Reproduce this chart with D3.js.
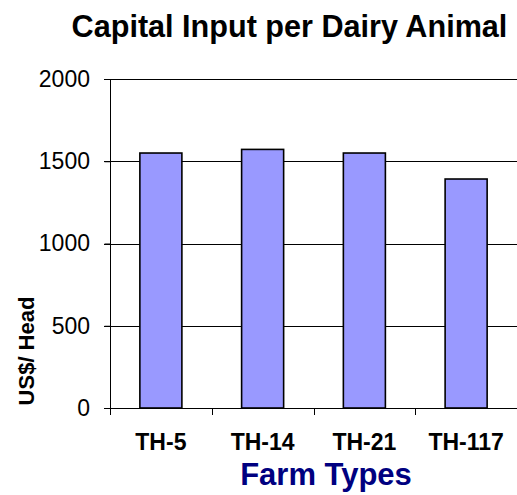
<!DOCTYPE html>
<html>
<head>
<meta charset="utf-8">
<script src="https://cdn.jsdelivr.net/npm/d3@7"></script>
<style>
  html, body { margin: 0; padding: 0; background: #fff; }
  svg { display: block; font-family: Arial, "Liberation Sans", sans-serif; }
</style>
</head>
<body>
<svg id="chart" width="517" height="495"></svg>
<script>
const categories = ["TH-5", "TH-14", "TH-21", "TH-117"];
const values = [1550, 1572, 1550, 1392];
const yTicks = [0, 500, 1000, 1500, 2000];
const titleText = "Capital Input per Dairy Animal";
const xTitle = "Farm Types";
const yTitle = "US$/ Head";

(function () {
const svg = d3.select("#chart");
const pLeft = 110, pRight = 517, pTop = 79, pBottom = 408;

const x = d3.scaleBand().domain(categories).range([pLeft, pRight])
  .paddingInner(0.587).paddingOuter(0.2935);
const y = d3.scaleLinear().domain([0, 2000]).range([pBottom, pTop]);

// gridlines
svg.append("g").selectAll("line").data(yTicks.filter(d => d > 0)).join("line")
  .attr("x1", pLeft - 6).attr("x2", pRight)
  .attr("y1", d => Math.round(y(d)) + 0.5).attr("y2", d => Math.round(y(d)) + 0.5)
  .attr("stroke", "#000").attr("stroke-width", 1);

// left axis
const yAxis = d3.axisLeft(y).tickValues(yTicks).tickSize(6).tickPadding(14.5).tickFormat(d3.format("d"));
const gy = svg.append("g").attr("transform", `translate(${pLeft + 0.5},0)`).call(yAxis);
gy.select(".domain").attr("d", `M0,${pTop}V${pBottom}`).attr("stroke", "#000");
gy.selectAll(".tick line").attr("stroke", "#000");
gy.selectAll(".tick text").attr("font-size", 23).attr("fill", "#000")
  .attr("font-family", "Arial, 'Liberation Sans', sans-serif");

// bottom axis line with boundary ticks
const step = x.step();
const boundaries = d3.range(categories.length + 1).map(i => pLeft + i * step);
svg.append("line").attr("x1", pLeft - 6).attr("x2", pRight)
  .attr("y1", pBottom + 0.5).attr("y2", pBottom + 0.5).attr("stroke", "#000");
svg.append("g").selectAll("line").data(boundaries).join("line")
  .attr("x1", d => Math.round(d) + 0.5).attr("x2", d => Math.round(d) + 0.5)
  .attr("y1", pBottom).attr("y2", pBottom + 7).attr("stroke", "#000");

// bars
svg.append("g").selectAll("rect").data(values).join("rect")
  .attr("x", (d, i) => x(categories[i]))
  .attr("width", x.bandwidth())
  .attr("y", d => y(d))
  .attr("height", d => y(0) - y(d))
  .attr("fill", "#9999FF").attr("stroke", "#000").attr("stroke-width", 1.6);

// category labels
svg.append("g").selectAll("text").data(categories).join("text")
  .attr("x", d => x(d) + x.bandwidth() / 2).attr("y", 450)
  .attr("text-anchor", "middle").attr("font-size", 23).attr("font-weight", "bold")
  .text(d => d);

// title
svg.append("text").attr("x", 289.5).attr("y", 37).attr("text-anchor", "middle")
  .attr("font-size", 30.6).attr("font-weight", "bold").text(titleText);

// x title
svg.append("text").attr("x", 326).attr("y", 485).attr("text-anchor", "middle")
  .attr("font-size", 31).attr("font-weight", "bold").attr("fill", "#000080").text(xTitle);

// y title
svg.append("text").attr("transform", "translate(34,351) rotate(-90)")
  .attr("text-anchor", "middle").attr("font-size", 22).attr("font-weight", "bold").text(yTitle);
})();
</script>
</body>
</html>
